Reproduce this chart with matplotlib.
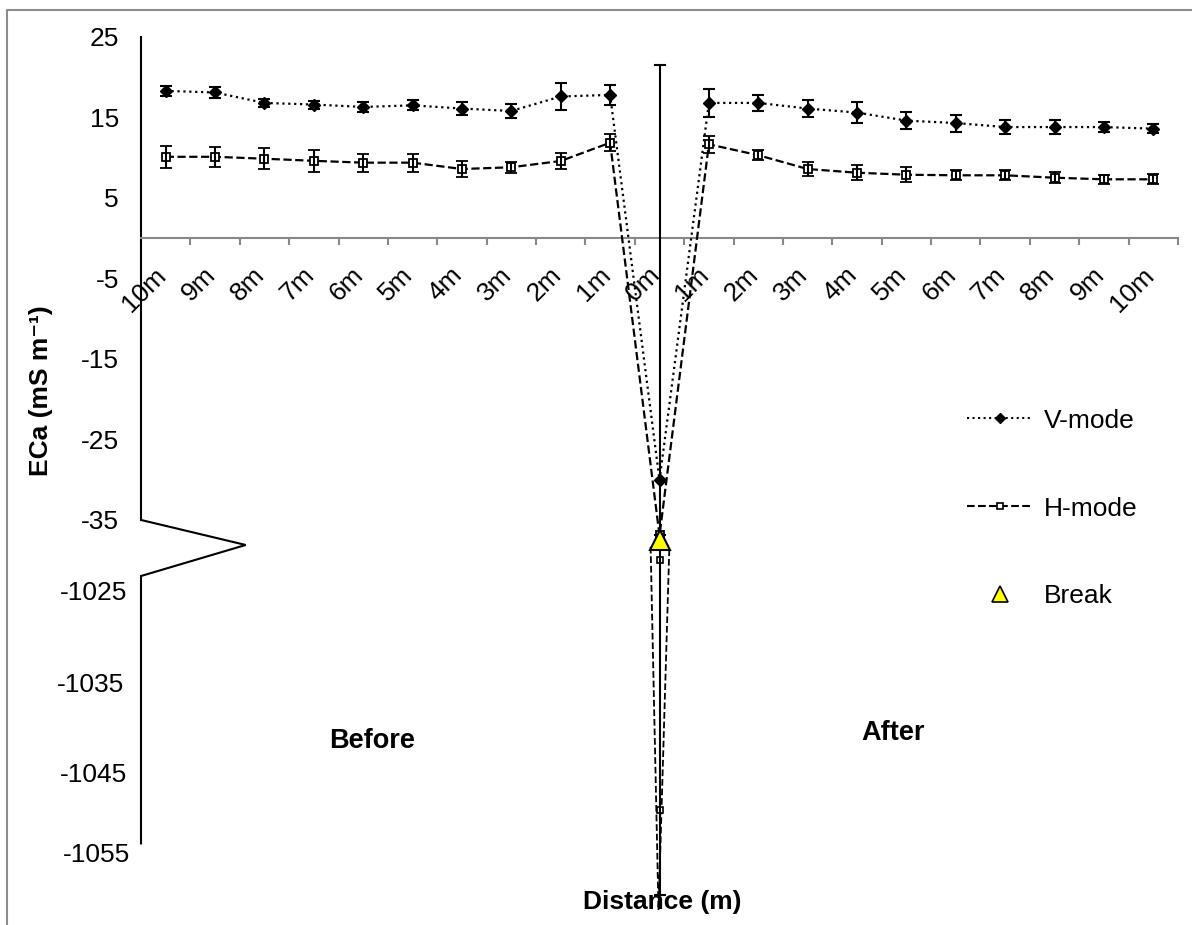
import matplotlib
matplotlib.use('Agg')
import matplotlib.pyplot as plt
from matplotlib.lines import Line2D
from matplotlib.transforms import ScaledTranslation
import numpy as np

plt.rcParams['font.family'] = ['Liberation Sans', 'DejaVu Sans']

# categories: before the break (10m .. 1m), the break (0m), after (1m .. 10m)
distance_labels = ['10m', '9m', '8m', '7m', '6m', '5m', '4m', '3m', '2m', '1m', '0m',
                   '1m', '2m', '3m', '4m', '5m', '6m', '7m', '8m', '9m', '10m']

v_mode = [18.3, 18.1, 16.8, 16.6, 16.3, 16.5, 16.1, 15.8, 17.6, 17.8, -30.1,
          16.8, 16.8, 16.1, 15.6, 14.6, 14.3, 13.8, 13.8, 13.8, 13.6]
v_err = [0.6, 0.7, 0.5, 0.5, 0.66, 0.62, 0.77, 0.85, 1.66, 1.26, 51.6,
         1.74, 1.04, 1.1, 1.26, 1.06, 1.06, 0.9, 0.9, 0.66, 0.6]

h_mode = [10.1, 10.1, 9.86, 9.6, 9.37, 9.37, 8.58, 8.8, 9.58, 11.85, -37.0,
          11.65, 10.3, 8.58, 8.12, 7.87, 7.8, 7.8, 7.5, 7.3, 7.3]
h_err = [1.35, 1.28, 1.33, 1.33, 1.12, 1.1, 1.0, 0.7, 0.95, 1.06, 0.0,
         1.08, 0.64, 0.9, 0.9, 0.93, 0.62, 0.62, 0.7, 0.56, 0.62]

# H-mode part below the axis break (plotted in broken-axis units)
h_tail_x = [9.82, 9.98, 10.2]
h_tail_y = [-38.4, -83.6, -38.4]
h_tail_pts_x = [10, 10]
h_tail_pts_y = [-40.0, -71.1]

break_x = [10]
break_y = [-37.6]

# y axis labels (upper part real values, lower part after the break)
ytick_pos = [25, 15, 5, -5, -15, -25, -35, -43.8, -55.3, -66.5, -76.4]
ytick_lab = ['25', '15', '5', '-5', '-15', '-25', '-35', '-1025', '-1035', '-1045', '-1055']
ytick_dx = [0, 0, 0, 0, 0, 0, 0, 8, 5, 8, 11]

# broken y axis line with zigzag
axis_line_x = [-0.5, -0.5, 1.62, -0.5, -0.5]
axis_line_y = [25, -35.07, -38.18, -42.04, -75.3]

W, H = 1192, 925
fig = plt.figure(figsize=(W / 100, H / 100), dpi=100)
ax = fig.add_axes([141 / W, 70 / H, 1037 / W, 818 / H])

x = np.arange(len(distance_labels))

ev = ax.errorbar(x, v_mode, yerr=v_err, fmt='D', ls=':', color='black', ms=6, lw=1.6,
                 ecolor='black', elinewidth=1.5, capsize=4, capthick=1.5, zorder=3)
eh = ax.errorbar(x, h_mode, yerr=h_err, fmt='s', ls='--', color='black', ms=5.5, lw=1.6,
                 mfc='white', mec='black', mew=1.3,
                 ecolor='black', elinewidth=1.5, capsize=4, capthick=1.5, zorder=3)
for cont in (ev, eh):
    cont[0].set_clip_on(False)
    for art in [*cont[1], *cont[2]]:
        art.set_clip_on(False)
        art.set_zorder(4)

ax.plot(h_tail_x, h_tail_y, ls='--', color='black', lw=1.3, clip_on=False, zorder=2)
ax.plot(h_tail_pts_x, h_tail_pts_y, ls='none', marker='s', ms=5, mfc='white',
        mec='black', mew=1.2, clip_on=False, zorder=3)
ax.plot(break_x, break_y, ls='none', marker='^', ms=15, mfc='#FFFF00', mec='black',
        mew=1.5, zorder=6, clip_on=False)

ax.plot(axis_line_x, axis_line_y, color='black', lw=1.5, clip_on=False,
        solid_joinstyle='miter')

ax.set_xlim(-0.5, 20.5)
ax.set_ylim(-76.74, 25)

for s in ['left', 'top', 'right']:
    ax.spines[s].set_visible(False)
ax.spines['bottom'].set_position(('data', 0))
ax.spines['bottom'].set_color('#898989')
ax.spines['bottom'].set_linewidth(1.5)

ax.set_xticks(x, distance_labels, rotation=45, ha='right', va='top', fontsize=19)
ax.set_xticks(np.arange(-0.5, 21, 1), minor=True)
ax.tick_params(axis='x', which='major', length=0, pad=18)
ax.tick_params(axis='x', which='minor', length=5, width=1.5, color='#898989', direction='out')
shift = ScaledTranslation(5 / 100, 0, fig.dpi_scale_trans)
for lab in ax.get_xticklabels():
    lab.set_transform(lab.get_transform() + shift)

ax.set_yticks(ytick_pos, ytick_lab, fontsize=19)
ax.tick_params(axis='y', length=0, pad=16)
for lab, dx in zip(ax.get_yticklabels(), ytick_dx):
    lab.set_transform(lab.get_transform() + ScaledTranslation(dx / 100, 0, fig.dpi_scale_trans))

handles = [
    Line2D([], [], color='black', ls=':', lw=1.5, marker='D', ms=5),
    Line2D([], [], color='black', ls='--', lw=1.5, marker='s', ms=5, mfc='white', mew=1.2),
    Line2D([], [], ls='none', marker='^', ms=12, mfc='#FFFF00', mec='black', mew=1.2),
]
ax.legend(handles, ['V-mode', 'H-mode', 'Break'], loc='center left',
          bbox_to_anchor=(967 / W, 1 - 508.5 / H), bbox_transform=fig.transFigure,
          frameon=False, fontsize=19, handlelength=2.5, handletextpad=0.4,
          labelspacing=2.42, borderpad=0, borderaxespad=0)

fig.text(372 / W, 1 - 741 / H, 'Before', fontsize=19.5, fontweight='bold', ha='center', va='center')
fig.text(893 / W, 1 - 733 / H, 'After', fontsize=19.5, fontweight='bold', ha='center', va='center')
fig.text(662 / W, 1 - 902 / H, 'Distance (m)', fontsize=19, fontweight='bold', ha='center', va='center')
fig.text(41 / W, 1 - 391 / H, 'ECa (mS m\u207b\u00b9)', fontsize=19, fontweight='bold',
         ha='center', va='center', rotation=90)

# chart area border (left and top visible)
fig.add_artist(Line2D([7 / W, 7 / W, 1], [0, 1 - 10 / H, 1 - 10 / H], transform=fig.transFigure,
                      color='#8c8c8c', lw=1.5))

fig.savefig('out.png', dpi=100)
